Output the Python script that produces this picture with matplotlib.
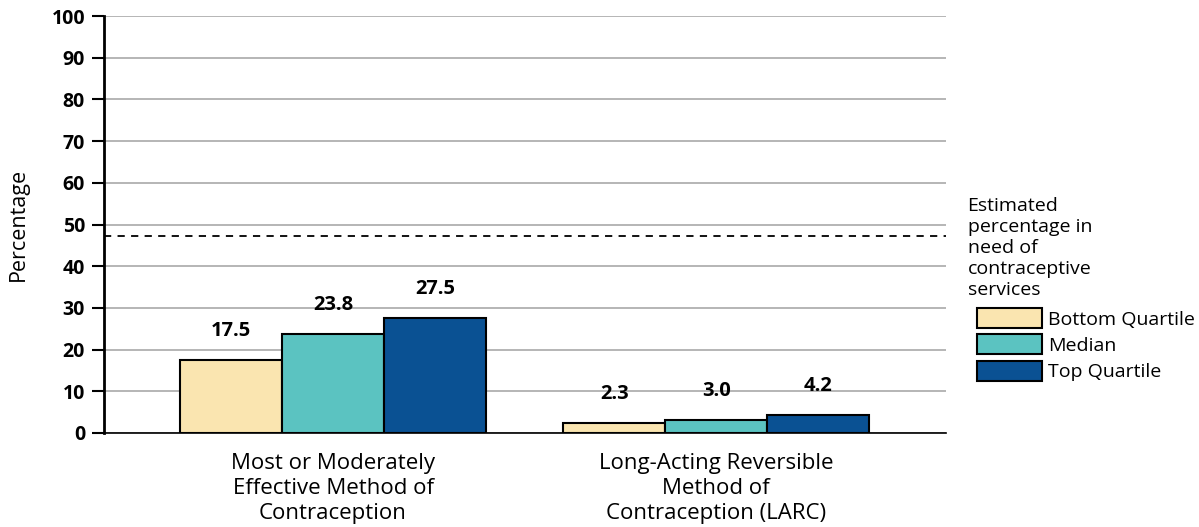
import matplotlib.pyplot as plt
import numpy as np
from matplotlib.patches import Patch

plt.rcParams['font.family'] = ['Open Sans', 'DejaVu Sans']

categories = ['Most or Moderately\nEffective Method of\nContraception',
              'Long-Acting Reversible\nMethod of\nContraception (LARC)']
series_names = ['Bottom Quartile', 'Median', 'Top Quartile']
bottom_quartile = [17.5, 2.3]
median = [23.8, 3.0]
top_quartile = [27.5, 4.2]
need_line = 47.2
colors = ['#fae5b0', '#5bc3c1', '#0a5193']
yticks = list(range(0, 101, 10))

fig = plt.figure(figsize=(11.99, 5.27), dpi=100)
ax = fig.add_axes([0.0867, 0.1784, 0.7023, 0.7912])

x = np.arange(len(categories))
width = 0.266
for i, (vals, col) in enumerate(zip([bottom_quartile, median, top_quartile], colors)):
    pos = x + (i - 1) * width
    ax.bar(pos, vals, width, color=col, edgecolor='black', linewidth=1.5, zorder=3)
    for p, v in zip(pos, vals):
        ax.annotate(f'{v:.1f}', (p, v), xytext=(0, 21), textcoords='offset points',
                    ha='center', va='center', fontsize=14.5, fontweight='bold')

# dashed reference line for estimated need
ax.axhline(need_line, color='black', linestyle=(0, (4, 3.5)), linewidth=1.3, zorder=4)

ax.set_xlim(-0.598, 1.60)
ax.set_ylim(0, 100)
ax.set_yticks(yticks)
ax.set_yticklabels([str(t) for t in yticks], fontsize=14, fontweight='bold')
ax.yaxis.grid(True, color='#b5b5b5', linewidth=1.4, zorder=0)
ax.set_axisbelow(True)
ax.tick_params(axis='y', length=8.6, width=1.5, pad=5)
ax.tick_params(axis='x', length=0, pad=14.5)
ax.set_xticks(x)
ax.set_xticklabels(categories, fontsize=16, linespacing=1.25)
ax.set_ylabel('Percentage', fontsize=15.5, labelpad=16)

for s in ['top', 'right']:
    ax.spines[s].set_visible(False)
ax.spines['left'].set_linewidth(2)
ax.spines['bottom'].set_linewidth(1.2)

fig.text(0.807, 0.626, 'Estimated\npercentage in\nneed of\ncontraceptive\nservices',
         fontsize=14, ha='left', va='top', linespacing=1.22)
handles = [Patch(facecolor=c, edgecolor='black', linewidth=1.5) for c in colors]
fig.legend(handles, series_names, loc='upper left', bbox_to_anchor=(0.815, 0.4156),
           frameon=False, fontsize=14, handlelength=3.35, handleheight=1.2,
           handletextpad=0.3, labelspacing=0.3, borderpad=0, borderaxespad=0)

fig.savefig('out.png', dpi=100)
